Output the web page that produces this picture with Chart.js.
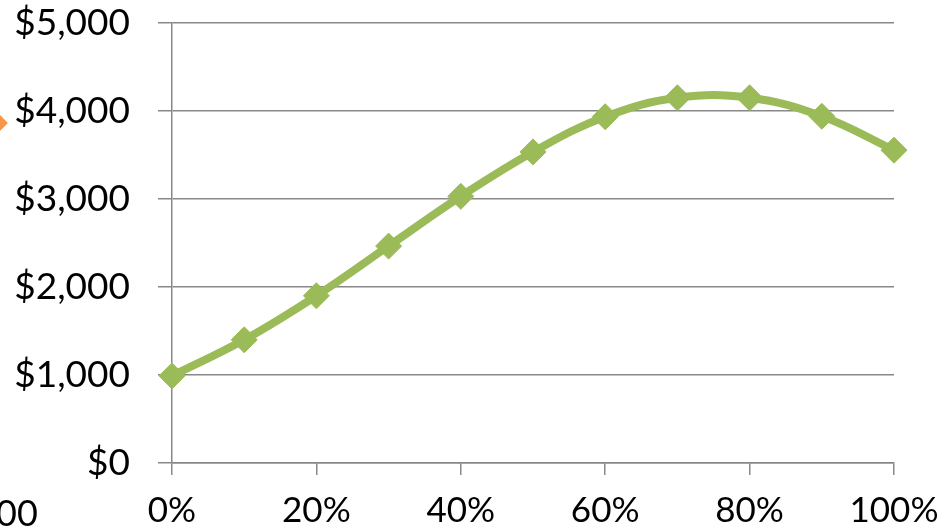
<!DOCTYPE html>
<html>
<head>
<meta charset="utf-8">
<script src="https://cdn.jsdelivr.net/npm/chart.js@4/dist/chart.umd.min.js"></script>
<style>
  html, body { margin: 0; padding: 0; background: #fff; overflow: hidden; }
  #wrap { position: relative; width: 941px; height: 530px; }
  #c { position: absolute; left: 0; top: 0; }
  #frag { position: absolute; left: -4px; top: 491px; font: 36px Lato, sans-serif; color: #000; line-height: 1.2; }
  #odiam { position: absolute; left: -9px; top: 116px; width: 14px; height: 14px; background: #F79646; transform: rotate(45deg); }
</style>
</head>
<body>
<div id="wrap">
  <canvas id="c" width="941" height="530"></canvas>
  <div id="odiam"></div>
  <div id="frag">00</div>
</div>
<script>
const percents = [0, 10, 20, 30, 40, 50, 60, 70, 80, 90, 100];
const values = [990, 1400, 1900, 2465, 3030, 3535, 3935, 4150, 4150, 3940, 3555];
const xTicks = [0, 20, 40, 60, 80, 100];
const yTicks = [0, 1000, 2000, 3000, 4000, 5000];

const green = '#9BBB59';
const gridColor = '#888888';

new Chart(document.getElementById('c'), {
  type: 'line',
  data: {
    datasets: [{
      data: percents.map((p, i) => ({ x: p, y: values[i] })),
      borderColor: green,
      backgroundColor: green,
      borderWidth: 8,
      tension: 0.4,
      pointStyle: 'rectRot',
      pointRadius: 13,
      pointBorderWidth: 1,
      pointBorderColor: green,
      pointBackgroundColor: green,
      clip: false
    }]
  },
  options: {
    responsive: false,
    animation: false,
    devicePixelRatio: 1,
    layout: { padding: { left: 0, top: 23, right: 47, bottom: 0 } },
    plugins: { legend: { display: false }, tooltip: { enabled: false } },
    scales: {
      x: {
        type: 'linear',
        min: 0, max: 100,
        afterBuildTicks: s => { s.ticks = xTicks.map(v => ({ value: v })); },
        afterFit: s => { s.height = 67; s.paddingLeft = 0; s.paddingRight = 0; },
        grid: { drawOnChartArea: false, drawTicks: true, tickLength: 12, color: gridColor, lineWidth: 1.5 },
        border: { display: true, color: gridColor, width: 1.5 },
        ticks: {
          padding: 15,
          maxRotation: 0,
          color: '#000',
          font: { family: 'Lato', size: 35 },
          callback: v => v + '%'
        }
      },
      y: {
        min: 0, max: 5000,
        afterBuildTicks: s => { s.ticks = yTicks.map(v => ({ value: v })); },
        afterFit: s => { s.width = 172; s.paddingTop = 0; s.paddingBottom = 0; },
        grid: { drawTicks: true, tickLength: 14, color: gridColor, lineWidth: 1.5 },
        border: { display: true, color: gridColor, width: 1.5 },
        ticks: {
          padding: 28,
          color: '#000',
          font: { family: 'Lato', size: 37 },
          callback: v => '$' + v.toLocaleString('en-US')
        }
      }
    }
  }
});
</script>
</body>
</html>
